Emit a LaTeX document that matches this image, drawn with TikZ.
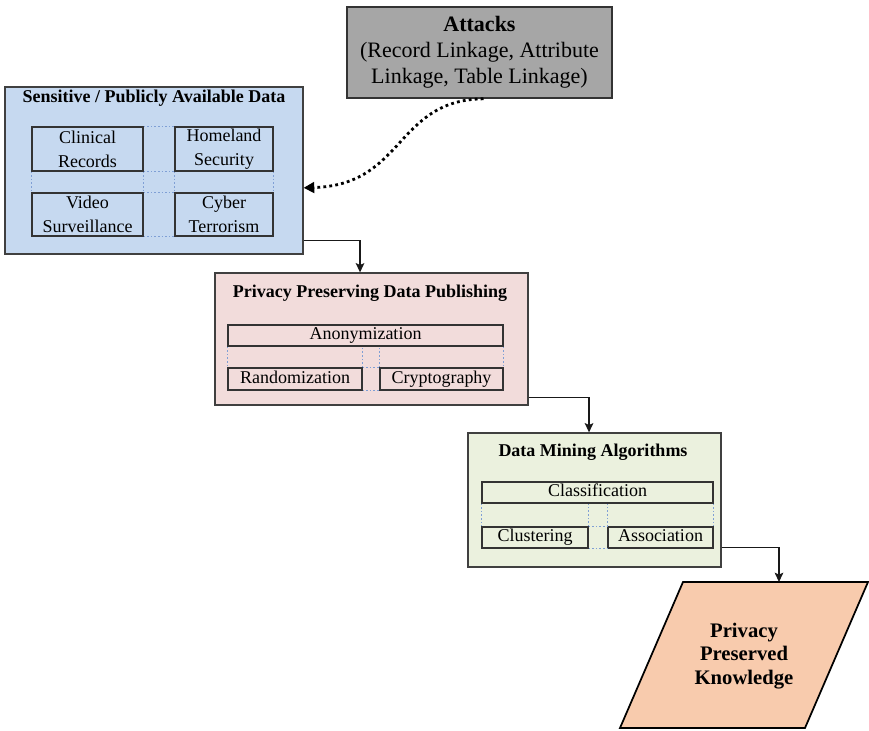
\documentclass[tikz,border=0pt]{standalone}
\usepackage{fontspec}
\setmainfont{Liberation Serif}
\usetikzlibrary{shapes.geometric, arrows, arrows.meta}

\definecolor{sensblue}{HTML}{C6D9F0}
\definecolor{ppdppink}{HTML}{F2DCDB}
\definecolor{dmagreen}{HTML}{EBF1DE}
\definecolor{attgray}{HTML}{A6A6A6}
\definecolor{pkpeach}{HTML}{F8CBAD}
\definecolor{gapblue}{HTML}{7F9FD5}

\tikzstyle{group} = [rectangle, draw=black!75, line width=0.9pt, inner sep=0pt]
\tikzstyle{title} = [font=\fontsize{13.5}{16}\selectfont\bfseries, inner sep=0pt]
\tikzstyle{item} = [rectangle, draw=black!80, line width=1pt, inner sep=0pt, align=center, font=\fontsize{13.5}{18}\selectfont]
\tikzstyle{oneline} = [text height=9.4pt, text depth=3pt]
\tikzstyle{cellgap} = [draw=gapblue, line width=1.1pt, dash pattern=on 1.1pt off 1.6pt]
\tikzstyle{attack} = [rectangle, draw=black!80, line width=1.2pt, fill=attgray, inner sep=0pt, align=center, font=\fontsize{16.5}{19.5}\selectfont]
\tikzstyle{outputshape} = [draw=black, line width=1.3pt, fill=pkpeach, line join=miter]
\tikzstyle{output} = [inner sep=0pt, align=center, font=\fontsize{15.5}{17.6}\selectfont\bfseries]
\tikzstyle{arrow} = [line width=1pt, draw=black!90, -{Stealth[length=7pt, width=6.5pt, inset=1.5pt]}]
\tikzstyle{dottedarrow} = [line width=2.1pt, dash pattern=on 2.1pt off 2.4pt, -{Triangle[length=8pt, width=8pt]}]

\begin{document}
\begin{tikzpicture}[x=0.75pt, y=-0.75pt]
\useasboundingbox (0,0) rectangle (869,731);

% Attacks
\node (att) [attack, minimum width=198.75pt, minimum height=68.25pt] at (479.5,52.5) {\textbf{Attacks}\\(Record Linkage, Attribute\\Linkage, Table Linkage)};

% Sensitive / publicly available data
\node (sens) [group, fill=sensblue, minimum width=223.5pt, minimum height=125.25pt] at (154,170.5) {};
\node (senstitle) [title] at (154,98) {Sensitive / Publicly Available Data};
\node (clin) [item, minimum width=83.25pt, minimum height=33pt] at (87.5,149) {Clinical\\Records};
\node (home) [item, minimum width=73.5pt, minimum height=33pt] at (224,149) {Homeland\\Security};
\node (vid) [item, minimum width=83.25pt, minimum height=32.25pt] at (87.5,214.5) {Video\\Surveillance};
\node (cyber) [item, minimum width=73.5pt, minimum height=32.25pt] at (224,214.5) {Cyber\\Terrorism};
\draw [cellgap] (clin.north east) -- (home.north west);
\draw [cellgap] (vid.south east) -- (cyber.south west);
\draw [cellgap] (clin.south east) -- (home.south west);
\draw [cellgap] (vid.north east) -- (cyber.north west);
\draw [cellgap] (clin.south west) -- (vid.north west);
\draw [cellgap] (clin.south east) -- (vid.north east);
\draw [cellgap] (home.south west) -- (cyber.north west);
\draw [cellgap] (home.south east) -- (cyber.north east);

% Privacy preserving data publishing
\node (ppdp) [group, fill=ppdppink, minimum width=234.75pt, minimum height=99pt] at (371.5,339) {};
\node (ppdptitle) [title] at (370,293) {Privacy Preserving Data Publishing};
\node (anon) [item, oneline, minimum width=206.25pt, minimum height=15.75pt] at (365.5,335.5) {Anonymization};
\node (rand) [item, oneline, minimum width=100.5pt, minimum height=16.5pt] at (295,379) {Randomization};
\node (crypt) [item, oneline, minimum width=92.25pt, minimum height=16.5pt] at (441.5,379) {Cryptography};
\draw [cellgap] (anon.south west) -- (rand.north west);
\draw [cellgap] (rand.north east) -- (rand.north east |- anon.south);
\draw [cellgap] (crypt.north west) -- (crypt.north west |- anon.south);
\draw [cellgap] (anon.south east) -- (crypt.north east);
\draw [cellgap] (rand.north east) -- (crypt.north west);
\draw [cellgap] (rand.south east) -- (crypt.south west);

% Data mining algorithms
\node (dma) [group, fill=dmagreen, minimum width=189.75pt, minimum height=100.5pt] at (594.5,500) {};
\node (dmatitle) [title] at (593,452) {Data Mining Algorithms};
\node (class) [item, oneline, minimum width=173.25pt, minimum height=15.75pt] at (597.5,492.5) {Classification};
\node (clust) [item, oneline, minimum width=79.5pt, minimum height=15.75pt] at (535,537.5) {Clustering};
\node (assoc) [item, oneline, minimum width=78.75pt, minimum height=15.75pt] at (660.5,537.5) {Association};
\draw [cellgap] (class.south west) -- (clust.north west);
\draw [cellgap] (clust.north east) -- (clust.north east |- class.south);
\draw [cellgap] (assoc.north west) -- (assoc.north west |- class.south);
\draw [cellgap] (class.south east) -- (assoc.north east);
\draw [cellgap] (clust.north east) -- (assoc.north west);
\draw [cellgap] (clust.south east) -- (assoc.south west);

% Privacy preserved knowledge
\draw [outputshape] (683,582) -- (868,582) -- (805,728) -- (620,728) -- cycle;
\node (pk) [output] at (744,656) {Privacy\\Preserved\\Knowledge};
\coordinate (pktop) at (779,582);

% Arrows
\draw [dottedarrow] ([xshift=3pt]att.south) .. controls (395,100) and (405,185) .. ([yshift=-13pt]sens.east);
\draw [arrow] ([yshift=10.5pt]sens.south east) -| ([xshift=-8.6pt]ppdp.north);
\draw [arrow] ([yshift=6pt]ppdp.south east) -| ([xshift=-4.1pt]dma.north);
\draw [arrow] ([yshift=15pt]dma.south east) -| (pktop);

\end{tikzpicture}
\end{document}
